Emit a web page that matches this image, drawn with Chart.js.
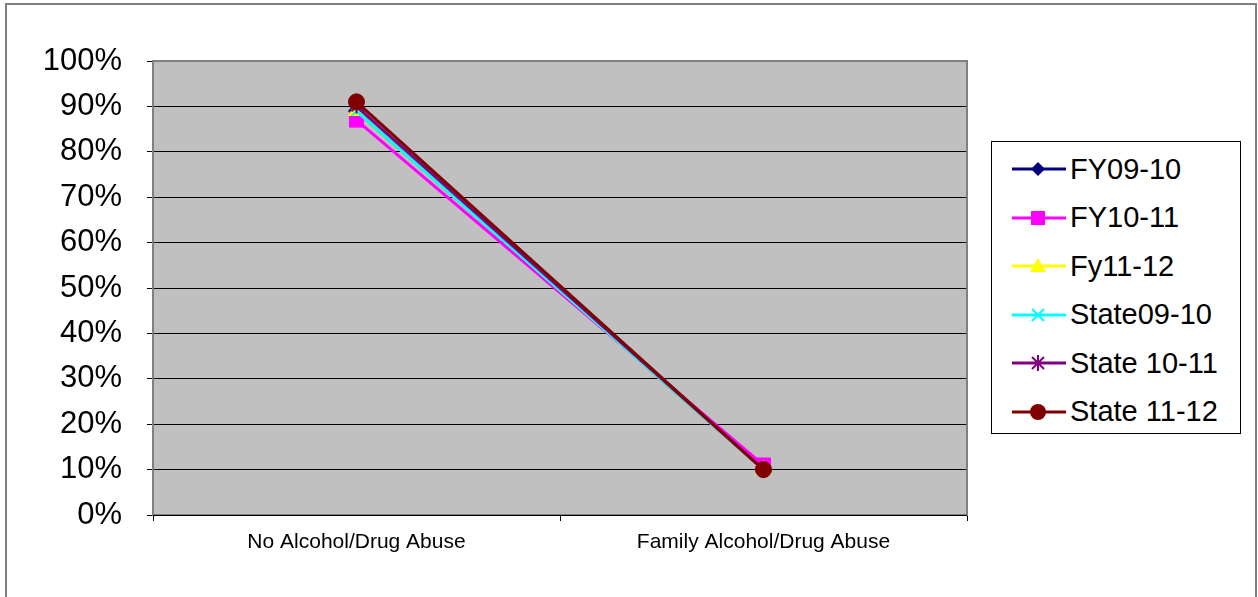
<!DOCTYPE html>
<html>
<head>
<meta charset="utf-8">
<script src="https://cdn.jsdelivr.net/npm/chart.js@4"></script>
<style>
  body { margin: 0; background: #fff; font-family: Arial, "Liberation Sans", sans-serif; }
  #wrap { position: relative; width: 1258px; height: 597px; overflow: hidden; }
  #frame { position: absolute; left: 5px; top: 3px; width: 1248px; height: 620px; border: 2px solid #7f7f7f; }
  #legend { position: absolute; left: 991px; top: 141px; width: 248px; height: 291px; border: 1px solid #000; background: #fff; }
  .item { position: absolute; left: 20px; height: 30px; display: flex; align-items: center; }
  .item span { font-size: 29px; color: #000; margin-left: 4px; }
</style>
</head>
<body>
<div id="wrap">
  <div id="frame"></div>
  <canvas id="chart" width="1258" height="597"></canvas>
  <div id="legend"></div>
</div>
<script>
const categories = ['No Alcohol/Drug Abuse', 'Family Alcohol/Drug Abuse'];
const seriesNames = ['FY09-10', 'FY10-11', 'Fy11-12', 'State09-10', 'State 10-11', 'State 11-12'];
const fy0910 = [89, 10];
const fy1011 = [87, 11];
const fy1112 = [89, 10];
const state0910 = [89, 10];
const state1011 = [90, 10];
const state1112 = [91, 10];
const yTicks = [0, 10, 20, 30, 40, 50, 60, 70, 80, 90, 100];

const colors = ['#000080', '#ff00ff', '#ffff00', '#00ffff', '#800080', '#800000'];
const markers = ['rectRot', 'rect', 'triangle', 'crossRot', 'star', 'circle'];
const radii = [8, 10, 9, 7, 7, 8];
const values = [fy0910, fy1011, fy1112, state0910, state1011, state1112];

const plotBg = {
    id: 'plotBg',
    beforeDraw(chart) {
        const {ctx, chartArea: a} = chart;
        ctx.save();
        ctx.fillStyle = '#c0c0c0';
        ctx.fillRect(a.left, a.top, a.right - a.left, a.bottom - a.top);
        ctx.restore();
    },
    afterDatasetsDraw(chart) {
        const {ctx, chartArea: a} = chart;
        ctx.save();
        ctx.strokeStyle = '#808080';
        ctx.lineWidth = 2;
        ctx.strokeRect(a.left, a.top, a.right - a.left, a.bottom - a.top);
        ctx.strokeStyle = '#000';
        ctx.lineWidth = 1;
        ctx.beginPath();
        ctx.moveTo(a.left, a.bottom + 0.5);
        ctx.lineTo(a.right, a.bottom + 0.5);
        ctx.stroke();
        ctx.restore();
    }
};

const datasets = seriesNames.map((name, i) => ({
    label: name,
    data: values[i],
    borderColor: colors[i],
    backgroundColor: colors[i],
    borderWidth: 3,
    pointStyle: markers[i],
    pointRadius: radii[i],
    pointBorderColor: colors[i],
    pointBackgroundColor: colors[i],
    pointBorderWidth: markers[i] === 'crossRot' || markers[i] === 'star' ? 2 : 1,
    order: seriesNames.length - i,
    tension: 0,
}));

new Chart(document.getElementById('chart'), {
    type: 'line',
    data: { labels: categories, datasets },
    options: {
        responsive: false,
        animation: false,
        layout: { padding: { top: 61, right: 291, left: 0, bottom: 0 } },
        plugins: { legend: { display: false }, tooltip: { enabled: false } },
        scales: {
            x: {
                offset: true,
                afterFit: s => { s.height = 82; },
                grid: { offset: true, drawOnChartArea: false, color: '#000', tickLength: 6 },
                border: { display: false },
                ticks: { color: '#000', font: { family: 'Arial', size: 21 }, padding: 9, maxRotation: 0 }
            },
            y: {
                min: 0,
                max: 100,
                afterFit: s => { s.width = 153; },
                afterBuildTicks: s => { s.ticks = yTicks.map(v => ({ value: v })); },
                grid: { color: '#000', lineWidth: 1, tickLength: 6 },
                border: { display: false },
                ticks: {
                    color: '#000',
                    font: { family: 'Arial', size: 31 },
                    padding: 25,
                    callback: v => v + '%'
                }
            }
        }
    },
    plugins: [plotBg]
});

// legend: line with marker, like the original
const svgMarker = (i) => {
    const c = colors[i];
    const cx = 26, cy = 15;
    let m = '';
    switch (markers[i]) {
        case 'rectRot': m = `<polygon points="${cx},${cy-7} ${cx+7},${cy} ${cx},${cy+7} ${cx-7},${cy}" fill="${c}"/>`; break;
        case 'rect': m = `<rect x="${cx-7}" y="${cy-7}" width="14" height="14" fill="${c}"/>`; break;
        case 'triangle': m = `<polygon points="${cx},${cy-8} ${cx+8},${cy+6} ${cx-8},${cy+6}" fill="${c}"/>`; break;
        case 'crossRot': m = `<path d="M${cx-6} ${cy-6}L${cx+6} ${cy+6}M${cx+6} ${cy-6}L${cx-6} ${cy+6}" stroke="${c}" stroke-width="2"/>`; break;
        case 'star': m = `<path d="M${cx-6} ${cy-6}L${cx+6} ${cy+6}M${cx+6} ${cy-6}L${cx-6} ${cy+6}M${cx} ${cy-8}L${cx} ${cy+8}" stroke="${c}" stroke-width="2"/>`; break;
        case 'circle': m = `<circle cx="${cx}" cy="${cy}" r="8" fill="${c}"/>`; break;
    }
    return `<svg width="54" height="30"><line x1="0" y1="${cy}" x2="54" y2="${cy}" stroke="${c}" stroke-width="3"/>${m}</svg>`;
};

const legend = document.getElementById('legend');
seriesNames.forEach((name, i) => {
    const el = document.createElement('div');
    el.className = 'item';
    el.style.top = (12 + i * 48.5) + 'px';
    el.innerHTML = svgMarker(i) + `<span>${name}</span>`;
    legend.appendChild(el);
});
</script>
</body>
</html>
